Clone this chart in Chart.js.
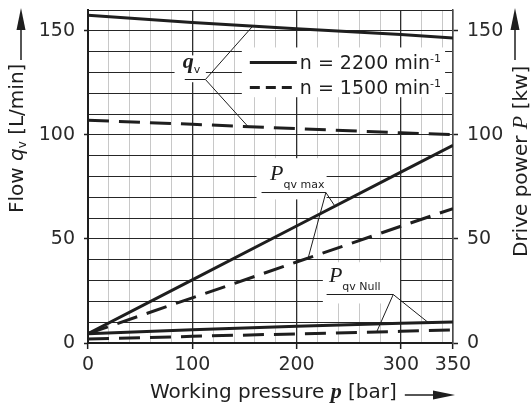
<!DOCTYPE html>
<html>
<head>
<meta charset="utf-8">
<title>Flow and drive power vs working pressure</title>
<script src="https://cdn.jsdelivr.net/npm/chart.js@4.4.1/dist/chart.umd.min.js"></script>
<style>
  html, body { margin: 0; background: #fff; }
  canvas { display: block; }
</style>
</head>
<body>
<canvas id="pumpChart" width="531" height="410"></canvas>
<script>
// working pressure [bar] at which the curves are given
const pressure = [0, 100, 200, 300, 350];

// flow qv [L/min]
const flow2200 = [157.5, 154, 151, 148.2, 146.6];
const flow1500 = [107, 105.1, 103, 101, 100.1];

// drive power [kW] at max and zero displacement
const powerMax2200 = [4.5, 30.3, 56.2, 82.1, 95];
const powerMax1500 = [4.5, 21.7, 38.9, 56.1, 64.6];
const powerNull2200 = [4.5, 6.4, 8.0, 9.5, 10.1];
const powerNull1500 = [1.9, 3.2, 4.4, 5.6, 6.3];

const xTickLabels = [0, 100, 200, 300, 350];
const yTickLabels = [0, 50, 100, 150];
const speedLabels = ['n = 2200 min', 'n = 1500 min'];

const SANS = '"DejaVu Sans", sans-serif';
const SERIF = '"Liberation Serif", "DejaVu Serif", serif';
const INK = '#1e1e1e';
const DASH = [21, 10];

function points(values) {
    return pressure.map((p, i) => ({ x: p, y: values[i] }));
}

function curve(label, values, dashed, axis) {
    return {
        label: label,
        data: points(values),
        yAxisID: axis,
        borderColor: INK,
        borderWidth: 3,
        borderDash: dashed ? DASH : [],
        pointRadius: 0,
        fill: false,
        tension: 0
    };
}

// value of a curve at pressure p (used to end the leader lines on the curve)
function valueAt(values, p) {
    for (let i = 1; i < pressure.length; i++) {
        if (p <= pressure[i]) {
            const t = (p - pressure[i - 1]) / (pressure[i] - pressure[i - 1]);
            return values[i - 1] + t * (values[i] - values[i - 1]);
        }
    }
    return values[values.length - 1];
}

// white patches behind labels and legend: [pMin, pMax, vMin, vMax]
const patches = [
    [83, 113, 125.3, 138.2],
    [147.5, 342.4, 118.1, 142],
    [161.6, 228.8, 69, 88.8],
    [225.2, 299.2, 19, 38.8]
];

const curveLabels = [
    {
        parts: [
            { text: 'q', font: 'bold italic 22px ' + SERIF, at: [90.9, 131.9] },
            { text: 'v', font: '11px ' + SANS, at: [null, 129.6] }
        ],
        line: [92.8, 112.6, 126.6],
        axis: 'y',
        targets: [[flow2200, 158], [flow1500, 153.5]]
    },
    {
        parts: [
            { text: 'P', font: 'italic 22px ' + SERIF, at: [174.6, 78.1] },
            { text: 'qv max', font: '11px ' + SANS, at: [null, 74.7] }
        ],
        line: [166.4, 228.1, 72.3],
        axis: 'y2',
        targets: [[powerMax1500, 211.1], [powerMax2200, 236.8]]
    },
    {
        parts: [
            { text: 'P', font: 'italic 22px ' + SERIF, at: [231, 29.1] },
            { text: 'qv Null', font: '11px ' + SANS, at: [null, 25.3] }
        ],
        line: [228.8, 292.7, 23.3],
        axis: 'y2',
        targets: [[powerNull1500, 276.8], [powerNull2200, 326.3]]
    }
];

function drawRich(ctx, parts, x, y) {
    let cx = x;
    parts.forEach(p => {
        ctx.font = p.font;
        ctx.fillText(p.text, cx, y + (p.dy || 0));
        cx += ctx.measureText(p.text).width;
    });
    return cx;
}

function arrow(ctx, x1, y1, x2, y2) {
    const a = Math.atan2(y2 - y1, x2 - x1);
    const len = 22, half = 4.5;
    ctx.beginPath();
    ctx.moveTo(x1, y1);
    ctx.lineTo(x2 - len * Math.cos(a), y2 - len * Math.sin(a));
    ctx.stroke();
    ctx.beginPath();
    ctx.moveTo(x2, y2);
    ctx.lineTo(x2 - len * Math.cos(a) - half * Math.sin(a), y2 - len * Math.sin(a) + half * Math.cos(a));
    ctx.lineTo(x2 - len * Math.cos(a) + half * Math.sin(a), y2 - len * Math.sin(a) - half * Math.cos(a));
    ctx.closePath();
    ctx.fill();
}

const annotate = {
    id: 'annotate',
    beforeDatasetsDraw(chart) {
        const { ctx, scales: { x, y } } = chart;
        ctx.save();
        ctx.fillStyle = '#fff';
        patches.forEach(b => {
            const l = x.getPixelForValue(b[0]), r = x.getPixelForValue(b[1]);
            const t = y.getPixelForValue(b[3]), btm = y.getPixelForValue(b[2]);
            ctx.fillRect(l, t, r - l, btm - t);
        });
        ctx.restore();
    },
    afterDatasetsDraw(chart) {
        const { ctx, scales } = chart;
        const x = scales.x;
        ctx.save();
        ctx.fillStyle = INK;
        ctx.strokeStyle = INK;
        ctx.textBaseline = 'alphabetic';
        ctx.textAlign = 'left';

        // curve labels with underline and leader lines
        curveLabels.forEach(lb => {
            const ys = scales[lb.axis];
            let cx = x.getPixelForValue(lb.parts[0].at[0]);
            lb.parts.forEach(p => {
                ctx.font = p.font;
                ctx.fillText(p.text, cx, ys.getPixelForValue(p.at[1]));
                cx += ctx.measureText(p.text).width;
            });
            const x1 = x.getPixelForValue(lb.line[0]);
            const x2 = x.getPixelForValue(lb.line[1]);
            const yl = ys.getPixelForValue(lb.line[2]);
            ctx.lineWidth = 1;
            ctx.beginPath();
            ctx.moveTo(x1, yl);
            ctx.lineTo(x2, yl);
            lb.targets.forEach(([series, p]) => {
                ctx.moveTo(x2, yl);
                ctx.lineTo(x.getPixelForValue(p), ys.getPixelForValue(valueAt(series, p)));
            });
            ctx.stroke();
        });

        // speed legend inside the plot
        const boxL = x.getPixelForValue(patches[1][0]);
        const boxT = scales.y.getPixelForValue(patches[1][3]);
        speedLabels.forEach((txt, i) => {
            const ry = boxT + 15 + i * 25;
            ctx.lineWidth = 3;
            ctx.setLineDash(i === 0 ? [] : [10, 6]);
            ctx.beginPath();
            ctx.moveTo(boxL + 8, ry);
            ctx.lineTo(boxL + 55, ry);
            ctx.stroke();
            ctx.setLineDash([]);
            drawRich(ctx, [
                { text: txt, font: '19px ' + SANS },
                { text: '-1', font: '11px ' + SANS, dy: -7 }
            ], boxL + 58, ry + 7);
        });
        ctx.restore();
    },
    afterDraw(chart) {
        const { ctx, chartArea } = chart;
        ctx.save();
        ctx.fillStyle = INK;
        ctx.strokeStyle = INK;
        ctx.lineWidth = 1.5;
        ctx.textBaseline = 'alphabetic';

        // pressure axis title
        const end = drawRich(ctx, [
            { text: 'Working pressure ', font: '20px ' + SANS },
            { text: 'p', font: 'bold italic 22px ' + SERIF },
            { text: ' [bar]', font: '20px ' + SANS }
        ], 150, 398);
        arrow(ctx, end + 8, 395, chartArea.right + 2, 395);

        // flow axis title
        ctx.save();
        ctx.translate(23, 213);
        ctx.rotate(-Math.PI / 2);
        drawRich(ctx, [
            { text: 'Flow ', font: '20px ' + SANS },
            { text: 'q', font: 'italic 20px ' + SANS },
            { text: 'v', font: '12px ' + SANS, dy: 3 },
            { text: ' [L/min]', font: '20px ' + SANS }
        ], 0, 0);
        ctx.restore();
        arrow(ctx, 21, 60, 21, 8);

        // power axis title
        ctx.save();
        ctx.translate(527, 257);
        ctx.rotate(-Math.PI / 2);
        drawRich(ctx, [
            { text: 'Drive power ', font: '20px ' + SANS },
            { text: 'P', font: 'italic 22px ' + SERIF },
            { text: ' [kw]', font: '20px ' + SANS }
        ], 0, 0);
        ctx.restore();
        arrow(ctx, 515, 60, 515, 8);
        ctx.restore();
    }
};

const isMajorX = v => v % 100 === 0 || v === 350;
const tickFont = { family: SANS, size: 19, lineHeight: 1 };

function valueAxis(position, width, drawArea, tickLen) {
    return {
        type: 'linear',
        position: position,
        min: 0,
        max: 160,
        afterFit: s => {
            s.width = width;
            s.paddingTop = 0;
            s.paddingBottom = 0;
        },
        border: { color: position === 'left' ? INK : '#4a4a4a', width: position === 'left' ? 2 : 1.5 },
        grid: {
            drawOnChartArea: drawArea,
            color: '#262626',
            lineWidth: 1,
            tickLength: tickLen,
            tickWidth: 1.5,
            tickColor: c => (c.tick && yTickLabels.includes(c.tick.value)) ? INK : 'rgba(0,0,0,0)'
        },
        ticks: {
            autoSkip: false,
            stepSize: 10,
            padding: 9,
            color: '#2a2a2a',
            font: tickFont,
            callback: v => yTickLabels.includes(v) ? String(v) : ''
        }
    };
}

new Chart(document.getElementById('pumpChart'), {
    type: 'line',
    data: {
        datasets: [
            curve('qv 2200', flow2200, false, 'y'),
            curve('qv 1500', flow1500, true, 'y'),
            curve('P qv max 2200', powerMax2200, false, 'y2'),
            curve('P qv max 1500', powerMax1500, true, 'y2'),
            curve('P qv Null 2200', powerNull2200, false, 'y2'),
            curve('P qv Null 1500', powerNull1500, true, 'y2')
        ]
    },
    options: {
        responsive: false,
        animation: false,
        layout: { padding: { top: 10, left: 0, right: 0, bottom: 0 } },
        plugins: {
            legend: { display: false },
            tooltip: { enabled: false }
        },
        scales: {
            x: {
                type: 'linear',
                min: 0,
                max: 350,
                afterBuildTicks: s => {
                    const t = [];
                    for (let v = 0; v <= 340; v += 20) t.push({ value: v });
                    t.push({ value: 350 });
                    s.ticks = t;
                },
                afterFit: s => {
                    s.height = 67;
                    s.paddingLeft = 0;
                    s.paddingRight = 0;
                },
                border: { color: INK, width: 2 },
                grid: {
                    color: c => (c.tick && isMajorX(c.tick.value)) ? '#2e2e2e' : '#c8c8c8',
                    lineWidth: c => (c.tick && isMajorX(c.tick.value)) ? 1.3 : 1,
                    tickLength: 6,
                    tickWidth: 1.5,
                    tickColor: c => (c.tick && xTickLabels.includes(c.tick.value)) ? INK : 'rgba(0,0,0,0)'
                },
                ticks: {
                    autoSkip: false,
                    maxRotation: 0,
                    padding: 5,
                    color: '#2a2a2a',
                    font: { family: SANS, size: 19 },
                    callback: v => xTickLabels.includes(v) ? String(v) : ''
                }
            },
            y: valueAxis('left', 88, true, 4),
            y2: valueAxis('right', 78, false, 5)
        }
    },
    plugins: [annotate]
});
</script>
</body>
</html>
